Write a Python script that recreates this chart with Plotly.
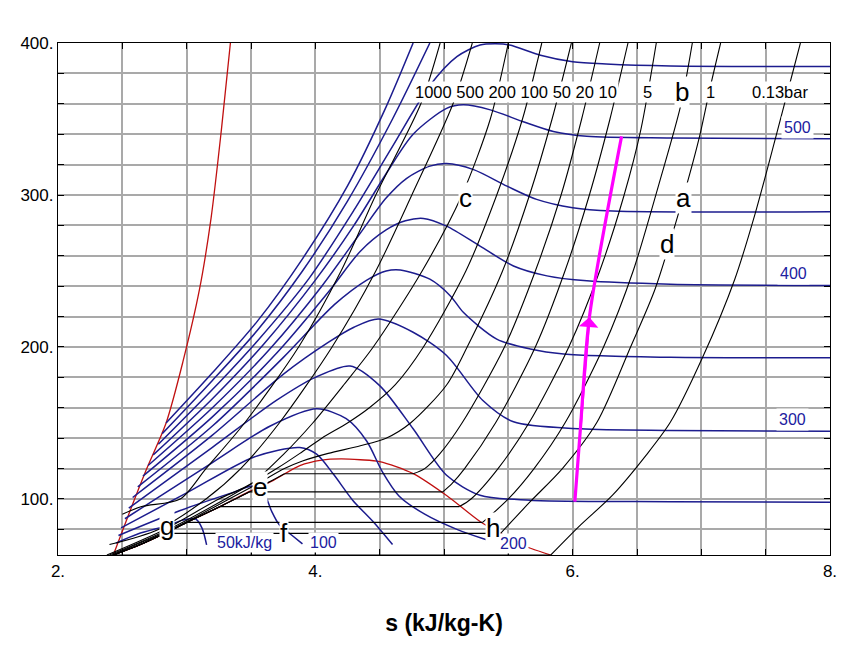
import plotly.graph_objects as go

# ---------------- data (s in kJ/kg-K, T in K) ----------------
MELT_S = [2.43, 2.55, 2.69, 2.84, 2.97, 3.10, 3.19, 3.27, 3.34]
MELT_T = [63.15, 90, 120, 150, 190, 238, 285, 343, 400]

DOME_S = [2.43, 2.64, 2.83, 3.00, 3.26, 3.48, 3.67, 3.88, 4.05, 4.20, 4.35, 4.50, 4.76, 5.02, 5.28, 5.44, 5.59, 5.83]
DOME_T = [63.15, 70, 77.4, 84.6, 95, 104.7, 112.1, 122, 125.6, 126.4, 125.8, 124.6, 116.7, 102.3, 85.2, 77.35, 70.2, 63.15]

# saturated-liquid points where the subcritical isobars leave the liquid side
SAT_LIQ_S = [2.43, 2.64, 2.83, 3.00, 3.26, 3.49, 3.66, 3.76]
SAT_LIQ_T = [63.15, 70, 77.4, 84.6, 95, 104.7, 112, 116.6]

# vapour branches of the subcritical isobars (first point = saturated vapour)
P013_S = [5.83, 6.06, 6.31, 6.57, 6.76, 7.01, 7.26, 7.42, 7.58, 7.77]
P013_T = [63.15, 82.8, 102.5, 128.7, 150.6, 193.2, 244.6, 288.3, 338.6, 400]
P1_S = [5.44, 5.67, 5.92, 6.19, 6.45, 6.64, 6.83, 6.98, 7.07, 7.15]
P1_T = [77.4, 98.2, 120, 150.6, 200, 238, 290, 336.4, 371.3, 400]
P2_S = [5.30, 5.50, 5.70, 5.94, 6.24, 6.47, 6.68, 6.84, 6.93]
P2_T = [84.6, 100, 120, 150, 200, 250, 310, 359, 400]
P5_S = [5.12, 5.21, 5.42, 5.66, 5.97, 6.21, 6.40, 6.53, 6.65]
P5_T = [95, 100, 120, 150, 200, 250, 300, 343, 400]
P10_S = [4.99, 5.06, 5.16, 5.40, 5.71, 5.94, 6.13, 6.29, 6.43]
P10_T = [104.7, 110, 120, 150, 200, 250, 300, 350, 400]
P20_S = [4.76, 4.85, 4.97, 5.14, 5.47, 5.71, 5.91, 6.07, 6.21]
P20_T = [116.6, 120, 130, 150, 200, 250, 300, 350, 400]

# supercritical isobars
P50_S = [2.42, 2.61, 2.88, 3.11, 3.33, 3.55, 3.76, 3.90, 4.10, 4.35, 4.55, 4.74, 5.02, 5.18, 5.455, 5.665, 5.84, 5.99]
P50_T = [63.15, 70, 80, 90, 100, 110, 120, 125, 130, 135, 140, 150, 175, 200, 250, 300, 350, 400]
P100_S = [2.40, 2.86, 3.30, 3.70, 3.88, 4.05, 4.25, 4.42, 4.62, 4.84, 5.17, 5.41, 5.61, 5.76]
P100_T = [63.15, 80, 100, 120, 130, 140, 150, 160, 175, 200, 250, 300, 350, 400]
P200_S = [2.38, 2.83, 3.25, 3.50, 3.76, 3.98, 4.22, 4.45, 4.83, 5.14, 5.36, 5.50]
P200_T = [63.15, 80, 100, 110, 130, 150, 175, 200, 250, 300, 350, 400]
P500_S = [2.40, 2.78, 3.15, 3.42, 3.72, 4.13, 4.47, 4.75, 5.07, 5.22]
P500_T = [70, 80, 100, 120, 150, 200, 250, 300, 360, 400]
P1000_S = [2.50, 2.65, 2.95, 3.15, 3.45, 3.87, 4.20, 4.47, 4.82, 4.97]
P1000_T = [90, 95, 100, 120, 150, 200, 250, 300, 360, 400]

# isenthalps (kJ/kg)
H650_S = [2.84, 3.20, 3.55, 3.90, 4.25, 4.55, 4.76]
H650_T = [150, 183, 217, 258, 306, 358, 400]
H600_S = [2.81, 3.20, 3.55, 3.90, 4.25, 4.60, 4.89]
H600_T = [143, 178, 211, 250, 296, 350, 400]
H550_S = [2.78, 3.20, 3.55, 3.95, 4.30, 4.60, 4.89, 5.10, 5.28, 5.40, 5.51, 5.75, 6.00, 6.26, 6.76, 8.0]
H550_T = [136, 172, 204, 245, 290, 332, 372, 391, 398.7, 399.5, 398.7, 392, 387.7, 386.2, 384.9, 384.6]
H500_S = [2.74, 3.20, 3.60, 4.00, 4.30, 4.55, 4.76, 5.02, 5.15, 5.36, 5.61, 5.85, 6.11, 6.76, 8.0]
H500_T = [129, 166, 202, 244, 280, 314, 340, 357, 359.3, 356, 348.4, 341.8, 338.6, 337.5, 337]
H450_S = [2.70, 3.20, 3.65, 4.05, 4.35, 4.55, 4.71, 4.89, 5.02, 5.23, 5.49, 5.72, 6.00, 6.31, 8.0]
H450_T = [122, 160, 199, 240, 275, 298, 311, 319, 320.7, 316.7, 305.8, 297.1, 291.6, 289.4, 289]
H400_S = [2.66, 3.20, 3.70, 4.10, 4.35, 4.55, 4.70, 4.84, 5.02, 5.28, 5.54, 5.80, 6.11, 6.76, 8.0]
H400_T = [115, 154, 196, 236, 263, 277, 283, 284.6, 279.5, 266.4, 253.3, 246.8, 243.5, 241.3, 240.5]
H350_S = [2.62, 3.20, 3.75, 4.15, 4.40, 4.55, 4.66, 4.89, 5.05, 5.15, 5.41, 5.67, 5.93, 6.76, 8.0]
H350_T = [108, 148, 193, 228, 244, 250, 250.7, 244.6, 233.6, 222.8, 205.2, 198.7, 195.4, 193.2, 193]
H300_S = [2.58, 3.20, 3.75, 4.10, 4.30, 4.49, 4.76, 5.02, 5.30, 5.54, 6.06, 6.76, 8.0]
H300_T = [101, 142, 182, 203, 213, 218.4, 209.7, 194.4, 165, 150.8, 146.2, 145.1, 144.6]
H250_S = [2.55, 3.20, 3.70, 4.00, 4.27, 4.50, 4.76, 5.02, 5.28, 5.67, 6.76, 8.0]
H250_T = [94, 134, 165, 180, 187.5, 174.6, 146.2, 115.6, 102.5, 99.2, 98.2, 97.8]
H200_S = [2.52, 3.20, 3.65, 4.01, 4.24, 4.40, 4.52, 4.65, 4.85, 5.10, 5.30, 5.40]
H200_T = [87, 124, 148, 159.3, 152.8, 138, 118, 102, 90, 80, 74, 71.5]
H150_S = [2.49, 3.00, 3.52, 3.88, 4.01, 4.14, 4.29, 4.45, 4.60]
H150_T = [81, 104, 127.5, 133.9, 129.5, 116.4, 99.2, 85, 70]
H100_S = [2.47, 2.95, 3.35, 3.52, 3.60, 3.66, 3.72, 3.82, 3.90]
H100_T = [76, 92.4, 104, 108.5, 104, 92, 83, 76, 70.5]
H50_S = [2.45, 2.62, 2.85, 2.97, 3.07, 3.12, 3.155]
H50_T = [71, 77, 82.5, 86.1, 86.8, 80.7, 69.8]

PROC_S = [6.017, 6.06, 6.13, 6.38]
PROC_T = [98.2, 146.2, 219.5, 338.6]

LETTERS = ["a", "b", "c", "d", "e", "f", "g", "h"]
LETTER_S = [6.86, 6.85, 5.17, 6.73, 3.57, 3.76, 2.85, 5.38]
LETTER_T = [297.7, 367.9, 297.7, 267.5, 108.2, 77.4, 82.0, 80.7]

XTICKS = [2 + 0.5 * i for i in range(13)]
XTICK_TEXT = ["2." if v == 2 else "4." if v == 4 else "6." if v == 6 else "8." if v == 8 else "" for v in XTICKS]
YTICKS = list(range(80, 401, 20))
YTICK_TEXT = [f"{v}." if v % 100 == 0 else "" for v in YTICKS]

BLACK = "#000000"
BLUE = "#1c1c8e"
RED = "#c01010"
MAG = "#ff00ff"

fig = go.Figure()


def line(s, t, color, width=1.2, spline=True):
    fig.add_trace(go.Scatter(
        x=s, y=t, mode="lines", hoverinfo="skip", showlegend=False,
        line=dict(color=color, width=width, shape="spline" if spline else "linear", smoothing=0.8)))


# red curves first (under the isobars)
line(MELT_S, MELT_T, RED, 1.3)
line(DOME_S, DOME_T, RED, 1.3)

# isenthalps
for hs, ht in [(H650_S, H650_T), (H600_S, H600_T), (H550_S, H550_T),
               (H500_S, H500_T), (H450_S, H450_T), (H400_S, H400_T), (H350_S, H350_T),
               (H300_S, H300_T), (H250_S, H250_T), (H200_S, H200_T), (H150_S, H150_T),
               (H100_S, H100_T), (H50_S, H50_T)]:
    line(hs, ht, BLUE, 1.5)

# subcritical isobars: liquid branch, flat two-phase, vapour branch
for n, vs, vt in [(1, P013_S, P013_T), (3, P1_S, P1_T), (4, P2_S, P2_T), (5, P5_S, P5_T),
                  (6, P10_S, P10_T), (8, P20_S, P20_T)]:
    if n > 1:
        line(SAT_LIQ_S[:n], SAT_LIQ_T[:n], BLACK, 1.1)
    line([SAT_LIQ_S[n - 1], vs[0]], [SAT_LIQ_T[n - 1], vt[0]], BLACK, 1.1, spline=False)
    line(vs, vt, BLACK, 1.1)

for ps, pt in [(P50_S, P50_T), (P100_S, P100_T), (P200_S, P200_T), (P500_S, P500_T), (P1000_S, P1000_T)]:
    line(ps, pt, BLACK, 1.1)

# process line
line(PROC_S, PROC_T, MAG, 3.2)
fig.add_annotation(x=PROC_S[2], y=PROC_T[2], ax=PROC_S[1], ay=PROC_T[1], xref="x", yref="y",
                   axref="x", ayref="y", showarrow=True, arrowhead=1, arrowsize=1.3,
                   arrowwidth=2.5, arrowcolor=MAG, text="")

# labels
lab_font = dict(family="Liberation Sans, Arial", size=16.5, color="black")
fig.add_annotation(x=5.56, y=368, text="1000 500 200 100 50 20 10", showarrow=False,
                   font=lab_font, bgcolor="white", borderpad=1)
for txt, sx in [("5", 6.58), ("1", 7.07), ("0.13bar", 7.61)]:
    fig.add_annotation(x=sx, y=368, text=txt, showarrow=False, font=lab_font,
                       bgcolor="white", borderpad=1)

blue_font = dict(family="Liberation Sans, Arial", size=16, color="#2020a0")
for txt, sx, ty in [("500", 7.75, 344.5), ("400", 7.72, 248.5), ("300", 7.71, 152)]:
    fig.add_annotation(x=sx, y=ty, text=txt, showarrow=False, font=blue_font,
                       bgcolor="white", borderpad=2)
for txt, sx, ty in [("50kJ/kg", 3.45, 71.5), ("100", 4.06, 71.5), ("200", 5.54, 71)]:
    fig.add_annotation(x=sx, y=ty, text=txt, showarrow=False, font=blue_font,
                       bgcolor="white", borderpad=1)

let_font = dict(family="Liberation Sans, Arial", size=26, color="black")
for ch, sx, ty in zip(LETTERS, LETTER_S, LETTER_T):
    fig.add_annotation(x=sx, y=ty, text=ch, showarrow=False, font=let_font,
                       bgcolor="white", borderpad=0)

fig.update_layout(
    width=856, height=654, margin=dict(l=58, r=26, t=43, b=99),
    paper_bgcolor="white", plot_bgcolor="white",
    font=dict(family="Liberation Sans, Arial", size=17, color="black"),
    xaxis=dict(range=[2, 8], tickvals=XTICKS, ticktext=XTICK_TEXT, showgrid=True,
               gridcolor="#a9a9a9", gridwidth=1.6, zeroline=False, showline=True,
               linecolor="black", linewidth=1.2, mirror="ticks", ticks="inside",
               ticklen=6, tickcolor="black",
               title=dict(text="<b>s (kJ/kg-K)</b>", font=dict(size=23), standoff=35)),
    yaxis=dict(range=[63.15, 400], tickvals=YTICKS, ticktext=YTICK_TEXT, showgrid=True,
               gridcolor="#a9a9a9", gridwidth=1.6, zeroline=False, showline=True,
               linecolor="black", linewidth=1.2, mirror="ticks", ticks="inside",
               ticklen=6, tickcolor="black"),
)

fig.write_html("out.html")
